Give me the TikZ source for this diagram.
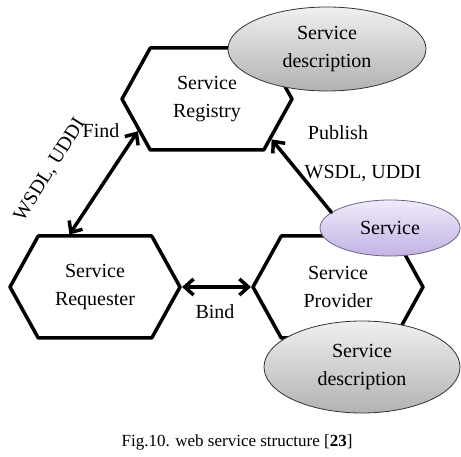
\documentclass[tikz,border=0pt]{standalone}
\usepackage{fontspec}
\setmainfont{Liberation Serif}
\usetikzlibrary{arrows.meta,shapes.geometric,shapes.symbols}
\definecolor{lavtop}{RGB}{240,235,251}
\definecolor{lavbot}{RGB}{194,178,228}
\definecolor{lavline}{RGB}{110,100,130}
\definecolor{greytop}{RGB}{240,240,240}
\definecolor{greybot}{RGB}{178,178,178}

\begin{document}
\begin{tikzpicture}[x=1pt, y=-1pt, line cap=round, line join=round,
  every node/.style={font=\fontsize{20}{28}\selectfont, align=center},
  hexa/.style={draw, line width=3.5pt, signal, signal to=west and east,
    signal pointer angle=122, minimum width=170pt, minimum height=102pt, inner sep=0pt},
  desc/.style={ellipse, draw=black!80, line width=0.8pt, top color=greytop,
    bottom color=greybot, inner sep=0pt},
  svc/.style={ellipse, draw=lavline, line width=0.8pt, top color=lavtop,
    bottom color=lavbot, inner sep=0pt},
  link/.style={line width=3.5pt, -{Straight Barb[length=9pt,width=16pt]}},
  twoway/.style={link, {Straight Barb[length=9pt,width=16pt]}-{Straight Barb[length=9pt,width=16pt]}}]
\useasboundingbox (0,0) rectangle (461,457);
% roles
\node[hexa] (reg) at (207,99) {Service\\Registry};
\node[hexa] (req) at (95,287) {Service\\Requester};
\node[hexa] (prov) at (338,287) {Service\\Provider};
% descriptions
\node[desc, minimum width=198pt, minimum height=84pt] (regdesc) at (327,49) {Service\\description};
\node[svc, minimum width=140pt, minimum height=56pt] (serv) at (390,228) {Service};
\node[desc, minimum width=196pt, minimum height=92pt] (provdesc) at (362,367) {Service\\description};
% operations
\draw[twoway] (req.116) -- (reg.205);
\draw[link] (serv.165) -- (reg.328);
\draw[twoway] (req.east) -- (prov.west);
\node (find) at (101,131) {Find};
\node[rotate=58] (findproto) at (50,170) {WSDL, UDDI};
\node (pub) at (338,133) {Publish};
\node (pubproto) at (363,173) {WSDL, UDDI};
\node (bind) at (215,312) {Bind};
% caption
\node[font=\fontsize{17}{20}\selectfont] (cap) at (237,442) {Fig.10. web service structure [\textbf{23}]};
\end{tikzpicture}
\end{document}
